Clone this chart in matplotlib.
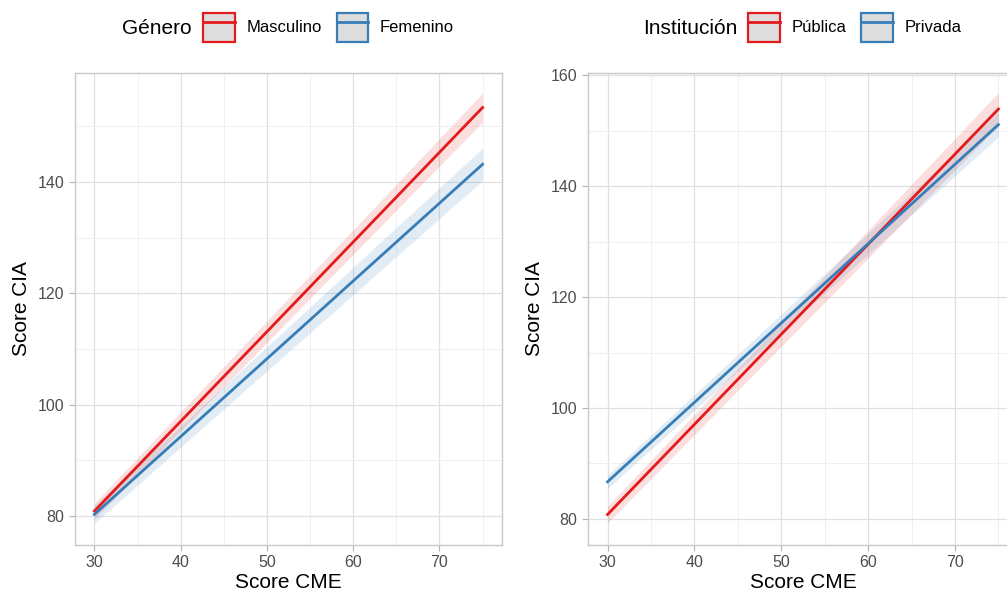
import numpy as np
import matplotlib.pyplot as plt
from matplotlib.patches import Patch
from matplotlib.lines import Line2D
from matplotlib.ticker import MultipleLocator

# fitted lines: x range and predicted y at the ends, plus CI half-width at ends
x_range = [30, 75]

genero_labels = ["Masculino", "Femenino"]
genero_y = [[80.9, 153.4], [80.3, 143.2]]
genero_ci = [[1.4, 2.6], [1.6, 2.9]]

inst_labels = ["Pública", "Privada"]
inst_y = [[80.8, 153.9], [86.7, 151.1]]
inst_ci = [[1.5, 3.0], [1.2, 2.2]]

colors = ["#E41A1C", "#377EB8"]

W, H = 1007, 592
fig = plt.figure(figsize=(W / 100, H / 100), dpi=100)
plt.rcParams['font.family'] = ['Liberation Sans', 'DejaVu Sans']


def panel(rect, ys, cis, ylim, yticks):
    ax = fig.add_axes([rect[0] / W, 1 - rect[3] / H, (rect[2] - rect[0]) / W, (rect[3] - rect[1]) / H])
    xs = np.linspace(x_range[0], x_range[1], 50)
    for (y0, y1), (c0, c1), col in zip(ys, cis, colors):
        t = (xs - x_range[0]) / (x_range[1] - x_range[0])
        y = y0 + (y1 - y0) * t
        ci = c0 + (c1 - c0) * t
        ax.fill_between(xs, y - ci, y + ci, color=col, alpha=0.14, lw=0)
        ax.plot(xs, y, color=col, lw=2)
    ax.set_xlim(27.75, 77.25)
    ax.set_ylim(*ylim)
    ax.set_xticks([30, 40, 50, 60, 70])
    ax.set_yticks(yticks)
    ax.xaxis.set_minor_locator(MultipleLocator(5))
    ax.yaxis.set_minor_locator(MultipleLocator(10))
    ax.grid(which='major', color='#E0E0E0', lw=0.9)
    ax.grid(which='minor', color='#EEEEEE', lw=0.6)
    ax.set_axisbelow(True)
    for s in ax.spines.values():
        s.set_color('#C8C8C8')
        s.set_linewidth(1)
    ax.tick_params(which='major', colors='#B3B3B3', length=4, labelcolor='#4D4D4D', labelsize=11.5)
    ax.tick_params(which='minor', length=0)
    ax.set_xlabel("Score CME", fontsize=15, labelpad=2)
    ax.set_ylabel("Score CIA", fontsize=15, labelpad=5)
    return ax


panel((75, 73, 502, 545), genero_y, genero_ci, (74.8, 159.6), [80, 100, 120, 140])
panel((588, 73, 1018, 545), inst_y, inst_ci, (75.3, 160.4), [80, 100, 120, 140, 160])


def legend(title, labels, tx, lx):
    fig.text(tx / W, 1 - 28 / H, title, fontsize=15, va='center', ha='left')
    handles = [(Patch(facecolor='#DDDDDD', edgecolor=c, lw=1.6), Line2D([], [], color=c, lw=2))
               for c in colors]
    fig.legend(handles, labels, loc='center left', bbox_to_anchor=(lx / W, 1 - 27 / H),
               ncol=2, frameon=False, fontsize=12, handlelength=1.9, handleheight=2.3,
               handletextpad=0.7, columnspacing=0.9, borderpad=0, borderaxespad=0)


legend("Género", genero_labels, 122, 203)
legend("Institución", inst_labels, 643, 748)

fig.savefig("out.png", dpi=100)
